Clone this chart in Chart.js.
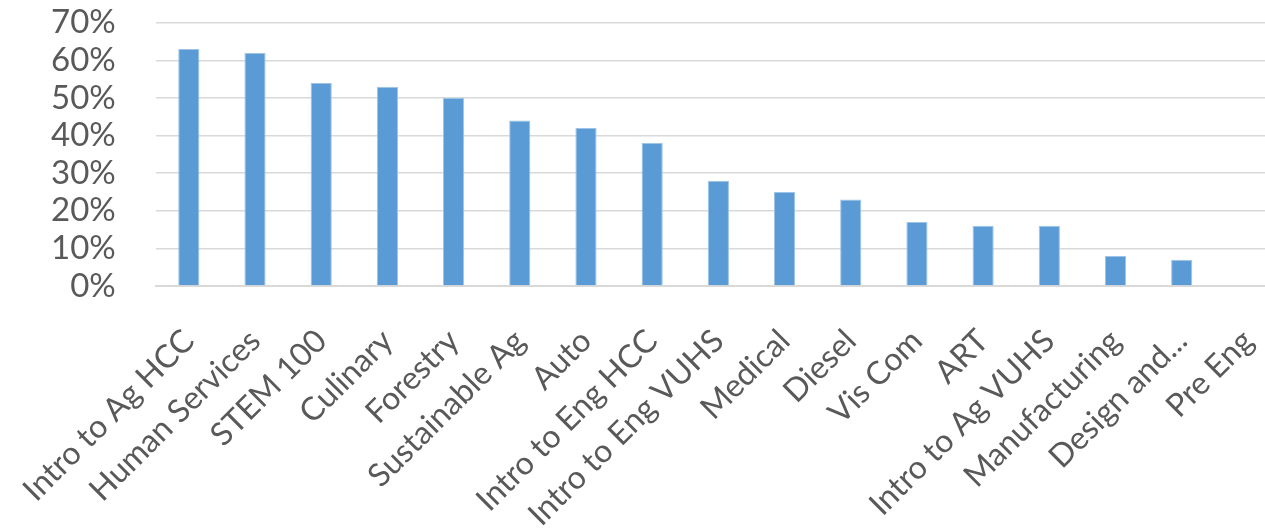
<!DOCTYPE html>
<html>
<head>
<meta charset="utf-8">
<script src="https://cdn.jsdelivr.net/npm/chart.js@4.4.0/dist/chart.umd.min.js"></script>
<style>
  html, body { margin: 0; padding: 0; background: #fff; overflow: hidden; }
  #wrap { position: absolute; left: 0; top: 0; width: 1290px; height: 531px; }
</style>
</head>
<body>
<div id="wrap"><canvas id="barChart"></canvas></div>
<script>
const programs = ['Intro to Ag HCC', 'Human Services', 'STEM 100', 'Culinary', 'Forestry',
  'Sustainable Ag', 'Auto', 'Intro to Eng HCC', 'Intro to Eng VUHS', 'Medical', 'Diesel',
  'Vis Com', 'ART', 'Intro to Ag VUHS', 'Manufacturing', 'Design and...', 'Pre Eng'];
const percents = [63, 62, 54, 53, 50, 44, 42, 38, 28, 25, 23, 17, 16, 16, 8, 7, 0];
const yTicks = [0, 10, 20, 30, 40, 50, 60, 70];

const ctx = document.getElementById('barChart').getContext('2d');
const textColor = '#595959';

const chart = new Chart(ctx, {
  type: 'bar',
  data: {
    labels: programs,
    datasets: [{
      data: percents,
      backgroundColor: '#5B9BD5',
      borderColor: '#9DC3E6',
      borderWidth: { top: 1, left: 1, right: 1, bottom: 0 },
      barPercentage: 0.32,
      categoryPercentage: 1
    }]
  },
  options: {
    responsive: true,
    maintainAspectRatio: false,
    animation: false,
    layout: { padding: { left: 48, right: 9, top: 0, bottom: 0 } },
    plugins: {
      legend: { display: false },
      tooltip: { enabled: false }
    },
    scales: {
      x: {
        grid: { display: false, drawTicks: false },
        border: { display: true, color: '#D9D9D9', width: 2 },
        ticks: {
          color: textColor,
          font: { family: 'Lato', size: 32 },
          maxRotation: 45,
          minRotation: 45,
          autoSkip: false,
          padding: 36
        },
        // the long rotated labels would otherwise push the plot around
        afterFit: (scale) => {
          scale.height = 245;
          scale.paddingLeft = 0;
          scale.paddingRight = 0;
        }
      },
      y: {
        min: 0,
        max: 70,
        afterBuildTicks: (scale) => { scale.ticks = yTicks.map(v => ({ value: v })); },
        grid: { color: '#D9D9D9', lineWidth: 1.5, drawTicks: true, tickLength: 37, tickColor: 'rgba(0,0,0,0)' },
        border: { display: false },
        ticks: {
          color: textColor,
          font: { family: 'Lato', size: 33 },
          padding: 3,
          autoSkip: false,
          callback: (v) => v + '%'
        }
      }
    }
  }
});
</script>
</body>
</html>
